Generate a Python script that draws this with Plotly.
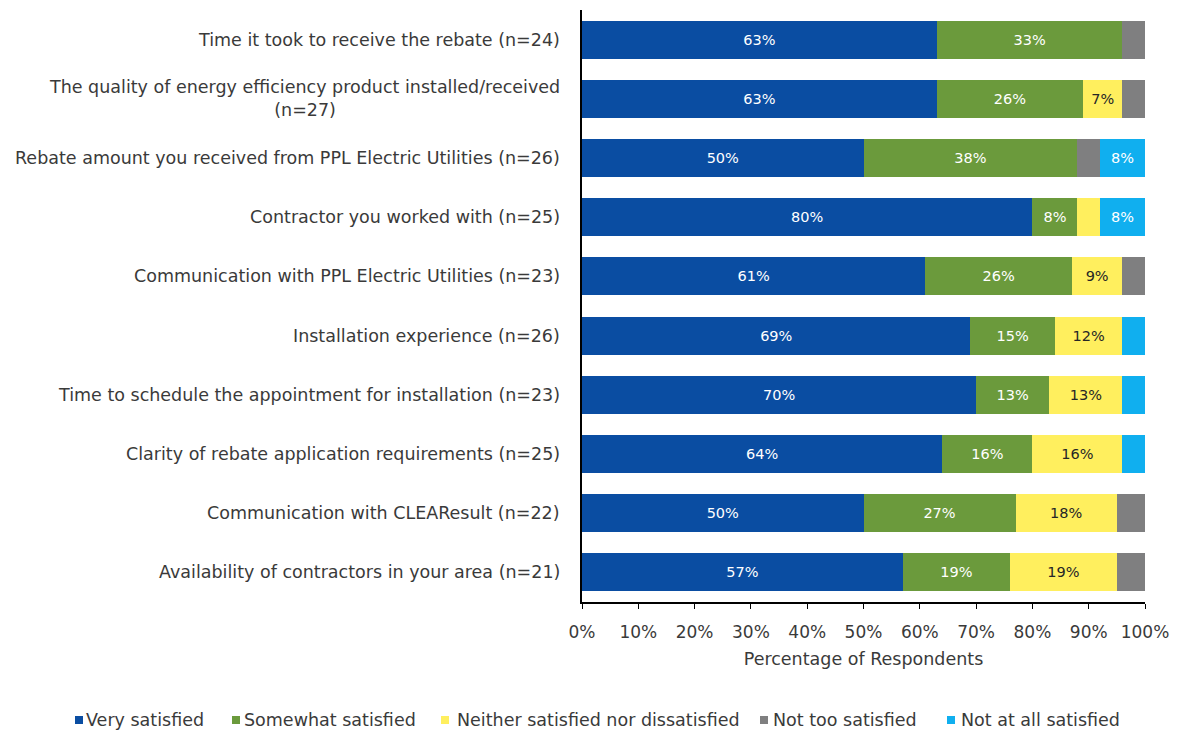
import plotly.graph_objects as go

# Survey items (top to bottom) and response shares in percent
categories = [
    "Time it took to receive the rebate (n=24)",
    "The quality of energy efficiency product installed/received<br>(n=27)",
    "Rebate amount you received from PPL Electric Utilities (n=26)",
    "Contractor you worked with (n=25)",
    "Communication with PPL Electric Utilities (n=23)",
    "Installation experience (n=26)",
    "Time to schedule the appointment for installation (n=23)",
    "Clarity of rebate application requirements (n=25)",
    "Communication with CLEAResult (n=22)",
    "Availability of contractors in your area (n=21)",
]

very_satisfied = [63, 63, 50, 80, 61, 69, 70, 64, 50, 57]
somewhat_satisfied = [33, 26, 38, 8, 26, 15, 13, 16, 27, 19]
neither = [0, 7, 0, 4, 9, 12, 13, 16, 18, 19]
not_too_satisfied = [4, 4, 4, 0, 4, 0, 0, 0, 5, 5]
not_at_all_satisfied = [0, 0, 8, 8, 0, 4, 4, 4, 0, 0]

x_ticks = [0, 10, 20, 30, 40, 50, 60, 70, 80, 90, 100]

FONT = "DejaVu Sans"
TEXT = "#3A3A3A"

series = [
    ("Very satisfied", very_satisfied, "#0A4DA2", "#FFFFFF"),
    ("Somewhat satisfied", somewhat_satisfied, "#6B9A3C", "#FFFFFF"),
    ("Neither satisfied nor dissatisfied", neither, "#FFEF5E", "#262626"),
    ("Not too satisfied", not_too_satisfied, "#7F7F80", "#FFFFFF"),
    ("Not at all satisfied", not_at_all_satisfied, "#10AFEF", "#FFFFFF"),
]

# Figure geometry (pixels)
W, H = 1177, 736
ML, MR, MT, MB = 582, 32, 10, 134
PW, PH = W - ML - MR, H - MT - MB

fig = go.Figure()
for name, vals, color, tcolor in series:
    fig.add_trace(go.Bar(
        y=categories,
        x=vals,
        name=name,
        orientation="h",
        marker=dict(color=color, line=dict(width=0)),
        text=[f"{v}%" if v >= 7 else "" for v in vals],
        textposition="inside",
        insidetextanchor="middle",
        textfont=dict(family=FONT, size=14.5, color=tcolor),
        hoverinfo="x+name",
        showlegend=False,
    ))

# Category labels as annotations so the wrapped label stays centred
for cat in categories:
    fig.add_annotation(
        x=0, xref="paper", y=cat, yref="y",
        text=cat, showarrow=False,
        xanchor="right", xshift=-20, align="center",
        font=dict(family=FONT, size=17.5, color=TEXT),
    )

# Single-row legend along the bottom: swatch left edge and label left edge (px)
legend_swatch_x = [75, 232, 441, 760, 947]
legend_text_x = [84, 242, 455, 771, 959]
legend_y_px = 720
sw = 8


def px_x(p):
    return (p - ML) / PW


def px_y(p):
    return (H - MB - p) / PH


for (name, _, color, _), sx, tx in zip(series, legend_swatch_x, legend_text_x):
    fig.add_shape(
        type="rect", xref="paper", yref="paper",
        x0=px_x(sx), x1=px_x(sx + sw),
        y0=px_y(legend_y_px + sw / 2), y1=px_y(legend_y_px - sw / 2),
        fillcolor=color, line=dict(width=0),
    )
    fig.add_annotation(
        x=px_x(tx), xref="paper", y=px_y(legend_y_px), yref="paper",
        text=name, showarrow=False, xanchor="left", yanchor="middle",
        font=dict(family=FONT, size=17.5, color=TEXT),
    )

fig.update_layout(
    barmode="stack",
    bargap=0.36,
    width=W, height=H,
    margin=dict(l=ML, r=MR, t=MT, b=MB, autoexpand=False),
    paper_bgcolor="white",
    plot_bgcolor="white",
    font=dict(family=FONT, size=17, color=TEXT),
    showlegend=False,
    xaxis=dict(
        range=[0, 100],
        tickvals=x_ticks,
        ticktext=[f"{t}%" for t in x_ticks],
        showline=True, linecolor="#000000", linewidth=1.5,
        ticks="outside", ticklen=5, tickcolor="#000000",
        ticklabelstandoff=9,
        showgrid=False, zeroline=False,
        automargin=False,
        tickfont=dict(family=FONT, size=17, color=TEXT),
        title=dict(text="Percentage of Respondents",
                   font=dict(family=FONT, size=17.5, color=TEXT),
                   standoff=12),
    ),
    yaxis=dict(
        categoryorder="array",
        categoryarray=categories[::-1],
        showticklabels=False,
        showline=True, linecolor="#000000", linewidth=1.5,
        ticks="", showgrid=False,
        automargin=False,
    ),
)

fig.write_html("out.html")
